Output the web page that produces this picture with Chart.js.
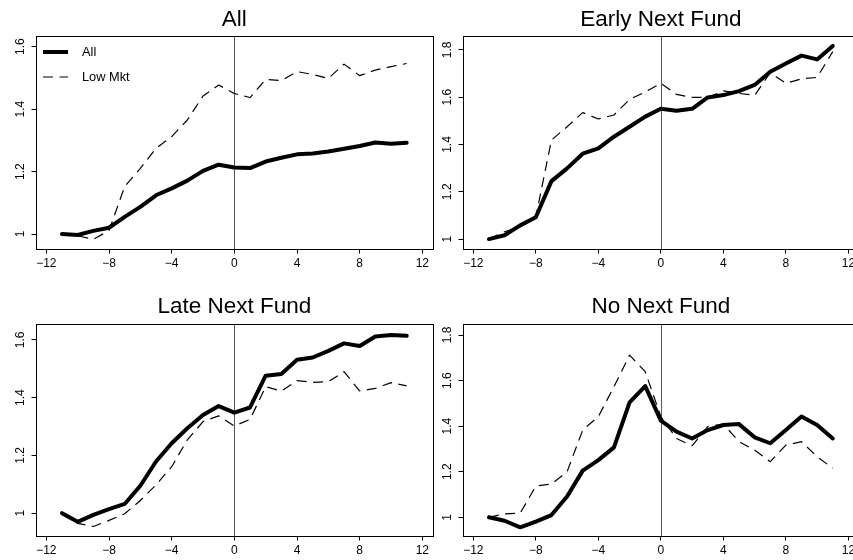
<!DOCTYPE html>
<html><head><meta charset="utf-8">
<script src="https://cdn.jsdelivr.net/npm/chart.js@4.4.1/dist/chart.umd.min.js"></script>
<style>
html,body{margin:0;padding:0;background:#fff;width:853px;height:560px;overflow:hidden;position:relative;}
canvas{position:absolute;}
</style></head><body>
<canvas id="c0" width="440" height="280" style="left:0;top:0;width:440px;height:280px"></canvas>
<canvas id="c1" width="440" height="280" style="left:427px;top:0;width:440px;height:280px"></canvas>
<canvas id="c2" width="440" height="280" style="left:0;top:280px;width:440px;height:280px"></canvas>
<canvas id="c3" width="440" height="280" style="left:427px;top:280px;width:440px;height:280px"></canvas>
<script>
// ---- data ----
const periods = [-11,-10,-9,-8,-7,-6,-5,-4,-3,-2,-1,0,1,2,3,4,5,6,7,8,9,10,11];
const seriesNames = ["All", "Low Mkt"];
const panelTitles = ["All", "Early Next Fund", "Late Next Fund", "No Next Fund"];

const allAll   = [1.00,0.997,1.01,1.02,1.055,1.087,1.124,1.146,1.171,1.202,1.222,1.213,1.211,1.232,1.244,1.255,1.258,1.264,1.273,1.282,1.293,1.289,1.292];
const allLow   = [1.00,0.994,0.983,1.011,1.152,1.21,1.274,1.312,1.365,1.442,1.477,1.45,1.437,1.495,1.491,1.52,1.511,1.498,1.544,1.507,1.525,1.536,1.546];
const earlyAll = [1.00,1.016,1.058,1.092,1.245,1.299,1.361,1.384,1.433,1.475,1.518,1.551,1.543,1.551,1.599,1.609,1.626,1.652,1.708,1.743,1.776,1.760,1.817];
const earlyLow = [1.00,1.031,1.052,1.094,1.419,1.475,1.535,1.508,1.525,1.591,1.622,1.659,1.612,1.599,1.599,1.627,1.616,1.608,1.704,1.659,1.678,1.684,1.793];
const lateAll  = [1.00,0.970,0.994,1.014,1.032,1.095,1.179,1.242,1.294,1.340,1.371,1.348,1.366,1.476,1.482,1.531,1.539,1.562,1.588,1.579,1.612,1.617,1.614];
const lateLow  = [1.00,0.965,0.954,0.975,0.998,1.044,1.098,1.161,1.254,1.317,1.337,1.302,1.325,1.438,1.423,1.459,1.453,1.455,1.490,1.423,1.432,1.452,1.441];
const noneAll  = [1.00,0.985,0.956,0.981,1.010,1.091,1.205,1.251,1.307,1.504,1.576,1.424,1.376,1.346,1.383,1.405,1.409,1.351,1.325,1.383,1.442,1.405,1.346];
const noneLow  = [1.00,1.015,1.018,1.137,1.146,1.200,1.383,1.442,1.573,1.712,1.639,1.442,1.346,1.314,1.398,1.409,1.332,1.295,1.244,1.317,1.332,1.266,1.215];

const xTicks = [-12,-8,-4,0,4,8,12];
const xTickLabels = ["\u221212","\u22128","\u22124","0","4","8","12"];
const yTicksA = [1,1.2,1.4,1.6];
const yTickLabelsA = ["1","1.2","1.4","1.6"];
const yTicksB = [1,1.2,1.4,1.6,1.8];
const yTickLabelsB = ["1","1.2","1.4","1.6","1.8"];

// ---- layout (not data) ----
const FONT = "'Liberation Sans', Arial, Helvetica, sans-serif";
Chart.defaults.font.family = FONT;
Chart.defaults.color = '#000';

const panels = [
  {id:'c0', title:panelTitles[0], solid:allAll,   dash:allLow,   yMin:0.952, yMax:1.634, yt:yTicksA, yl:yTickLabelsA, top:true,  right:false, legend:true},
  {id:'c1', title:panelTitles[1], solid:earlyAll, dash:earlyLow, yMin:0.958, yMax:1.859, yt:yTicksB, yl:yTickLabelsB, top:true,  right:true,  legend:false},
  {id:'c2', title:panelTitles[2], solid:lateAll,  dash:lateLow,  yMin:0.921, yMax:1.654, yt:yTicksA, yl:yTickLabelsA, top:false, right:false, legend:false},
  {id:'c3', title:panelTitles[3], solid:noneAll,  dash:noneLow,  yMin:0.918, yMax:1.847, yt:yTicksB, yl:yTickLabelsB, top:false, right:true,  legend:false}
];

const decor = {
  id: 'decor',
  beforeDatasetsDraw(chart) {
    const {ctx, chartArea:a, scales:{x}} = chart;
    const px = x.getPixelForValue(0);
    ctx.save();
    ctx.strokeStyle = '#555';
    ctx.lineWidth = 1;
    ctx.beginPath();
    ctx.moveTo(Math.round(px)+0.5, a.top);
    ctx.lineTo(Math.round(px)+0.5, a.bottom);
    ctx.stroke();
    ctx.restore();
  },
  afterDraw(chart, args, opts) {
    const {ctx, chartArea:a} = chart;
    ctx.save();
    ctx.strokeStyle = '#000';
    ctx.lineWidth = 1;
    ctx.strokeRect(Math.round(a.left)+0.5, Math.round(a.top)+0.5, Math.round(a.right-a.left), Math.round(a.bottom-a.top));
    if (opts.legend) {
      const ds = chart.data.datasets;
      const x0 = a.left + 7, x1 = a.left + 32, tx = a.left + 46;
      const rows = [a.top + 16, a.top + 41];
      ctx.font = "12.8px " + FONT;
      ctx.textBaseline = 'middle';
      ctx.textAlign = 'left';
      ds.forEach((d, i) => {
        ctx.strokeStyle = d.borderColor;
        ctx.lineWidth = d.borderWidth;
        ctx.setLineDash(d.borderDash || []);
        ctx.lineCap = 'butt';
        ctx.beginPath();
        ctx.moveTo(x0, rows[i]);
        ctx.lineTo(x1, rows[i]);
        ctx.stroke();
        ctx.setLineDash([]);
        ctx.fillStyle = '#000';
        ctx.fillText(d.label, tx, rows[i]);
      });
    }
    ctx.restore();
  }
};

panels.forEach(p => {
  const solidPts = periods.map((t, i) => ({x: t, y: p.solid[i]}));
  const dashPts = periods.map((t, i) => ({x: t, y: p.dash[i]}));
  new Chart(document.getElementById(p.id), {
    type: 'line',
    data: {
      datasets: [
        {label: seriesNames[0], data: solidPts, borderColor:'#000', backgroundColor:'#000', borderWidth:4,
         pointRadius:0, tension:0, borderCapStyle:'round', borderJoinStyle:'round', fill:false, order:2},
        {label: seriesNames[1], data: dashPts, borderColor:'#000', backgroundColor:'#000', borderWidth:1.2,
         borderDash:[10,6.5], pointRadius:0, tension:0, borderCapStyle:'butt', borderJoinStyle:'round', fill:false, order:1}
      ]
    },
    options: {
      responsive: false,
      animation: false,
      events: [],
      layout: {padding: {left:0, right: p.right ? 8.3 : 7.3, top:0, bottom:0}},
      plugins: {
        legend: {display:false},
        tooltip: {enabled:false},
        title: {
          display: true, text: p.title, fullSize: false,
          font: {size: 22.5, weight: 'normal', family: FONT, lineHeight: 1.2},
          color: '#000',
          padding: p.top ? {top: 6.5, bottom: 2.5} : {top: 13.2, bottom: 4.1}
        },
        decor: {legend: p.legend}
      },
      scales: {
        x: {
          type: 'linear', min: -12.66, max: 12.66,
          afterBuildTicks: s => { s.ticks = xTicks.map(v => ({value: v})); },
          afterFit: s => { s.height = p.top ? 31 : 24; },
          ticks: {autoSkip:false, maxRotation:0, minRotation:0, padding:3, color:'#000',
                  font:{size:12, family:FONT},
                  callback: v => xTickLabels[xTicks.indexOf(v)]},
          grid: {drawOnChartArea:false, drawTicks:true, tickLength:4.5, color:'#000', lineWidth:1},
          border: {display:false}
        },
        y: {
          type: 'linear', min: p.yMin, max: p.yMax,
          afterBuildTicks: s => { s.ticks = p.yt.map(v => ({value: v})); },
          afterFit: s => { s.width = 36; },
          ticks: {autoSkip:false, minRotation:90, maxRotation:90, crossAlign:'center', padding:2.6, color:'#000',
                  font:{size:12, family:FONT},
                  callback: v => p.yl[p.yt.indexOf(v)]},
          grid: {drawOnChartArea:false, drawTicks:true, tickLength:4.5, color:'#000', lineWidth:1},
          border: {display:false}
        }
      }
    },
    plugins: [decor]
  });
});
</script>
</body></html>
